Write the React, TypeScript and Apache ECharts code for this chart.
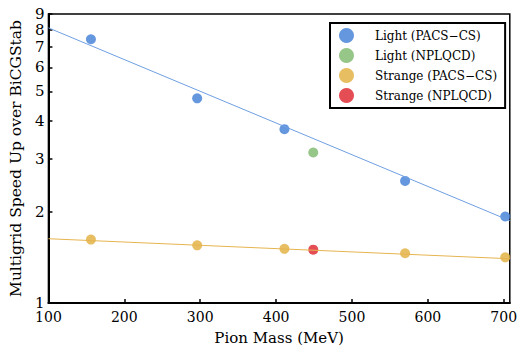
import React, { useEffect, useRef } from "react";
import * as echarts from "echarts";

const pacsMass = [156, 296, 411, 570, 702];
const lightPacs = [7.43, 4.74, 3.75, 2.53, 1.93];
const strangePacs = [1.62, 1.55, 1.51, 1.46, 1.415];
const nplqcdMass = [449];
const lightNpl = [3.14];
const strangeNpl = [1.5];
const fitMass = [100, 708];
const lightFit = [8.1, 1.87];
const strangeFit = [1.63, 1.4];
const yTicks = [1, 2, 3, 4, 5, 6, 7, 8, 9];
const xTicks = [100, 200, 300, 400, 500, 600, 700];
const seriesNames = ["Light (PACS−CS)", "Light (NPLQCD)", "Strange (PACS−CS)", "Strange (NPLQCD)"];

const FONT = "DejaVu Serif";
const BLUE = "#3f7dd6";
const GREEN = "#7db86c";
const ORANGE = "#e1ae3b";
const RED = "#dd2129";

const zip = (xs: number[], ys: number[]) => xs.map((x, i) => [x, ys[i]]);

export default function App() {
  const ref = useRef<HTMLDivElement>(null);
  useEffect(() => {
    if (!ref.current) return;
    const chart = echarts.init(ref.current, null, { renderer: "svg" });
    chart.setOption({
      animation: false,
      backgroundColor: "#fff",
      textStyle: { fontFamily: FONT },
      grid: {
        left: 42,
        right: 7,
        top: 14,
        bottom: 45,
        show: true,
        borderColor: "#000",
        borderWidth: 1.5,
        backgroundColor: "transparent",
      },
      legend: {
        data: seriesNames,
        orient: "vertical",
        left: 330,
        top: 23,
        icon: "circle",
        itemWidth: 15,
        itemHeight: 15,
        itemGap: 5,
        padding: [5, 8, 5, 9],
        borderColor: "#000",
        borderWidth: 2,
        backgroundColor: "#fff",
        textStyle: { fontFamily: FONT, fontSize: 12, color: "#000", padding: [0, 0, 0, 16] },
      },
      xAxis: {
        type: "value",
        min: 100,
        max: 708,
        interval: 100,
        name: "Pion Mass (MeV)",
        nameLocation: "middle",
        nameGap: 27,
        nameTextStyle: { fontFamily: FONT, fontSize: 15, color: "#000" },
        axisLine: { lineStyle: { color: "#000", width: 2 } },
        axisTick: { inside: true, length: 4, customValues: xTicks, lineStyle: { color: "#000", width: 1.5 } },
        axisLabel: { customValues: xTicks, fontFamily: FONT, fontSize: 14, color: "#000", margin: 7 },
        splitLine: { show: false },
      },
      yAxis: {
        type: "log",
        logBase: 10,
        min: 1,
        max: 9.001,
        name: "Multigrid Speed Up over BiCGStab",
        nameLocation: "middle",
        nameGap: 22,
        nameTextStyle: { fontFamily: FONT, fontSize: 15.5, color: "#000" },
        axisLine: { show: true, lineStyle: { color: "#000", width: 2 } },
        axisTick: { inside: true, length: 4, customValues: yTicks, lineStyle: { color: "#000", width: 1.5 } },
        axisLabel: {
          customValues: yTicks,
          showMaxLabel: true,
          showMinLabel: true,
          hideOverlap: false,
          formatter: (v: number) => String(Math.round(v)),
          fontFamily: FONT,
          fontSize: 15,
          color: "#000",
          margin: 4,
        },
        splitLine: { show: false },
        minorTick: { show: false },
      },
      series: [
        {
          type: "line",
          data: zip(fitMass, lightFit),
          showSymbol: false,
          silent: true,
          lineStyle: { color: "#6f9fe2", width: 1 },
        },
        {
          type: "line",
          data: zip(fitMass, strangeFit),
          showSymbol: false,
          silent: true,
          lineStyle: { color: "#e6b450", width: 1 },
        },
        {
          name: seriesNames[0],
          type: "scatter",
          data: zip(pacsMass, lightPacs),
          symbolSize: 10,
          itemStyle: { color: BLUE },
        },
        {
          name: seriesNames[1],
          type: "scatter",
          data: zip(nplqcdMass, lightNpl),
          symbolSize: 10,
          itemStyle: { color: GREEN },
        },
        {
          name: seriesNames[2],
          type: "scatter",
          data: zip(pacsMass, strangePacs),
          symbolSize: 10,
          itemStyle: { color: ORANGE },
        },
        {
          name: seriesNames[3],
          type: "scatter",
          data: zip(nplqcdMass, strangeNpl),
          symbolSize: 10,
          itemStyle: { color: RED },
        },
      ],
    });
    return () => chart.dispose();
  }, []);
  return <div ref={ref} style={{ position: "fixed", left: 0, top: 0, width: 520, height: 350 }} />;
}
